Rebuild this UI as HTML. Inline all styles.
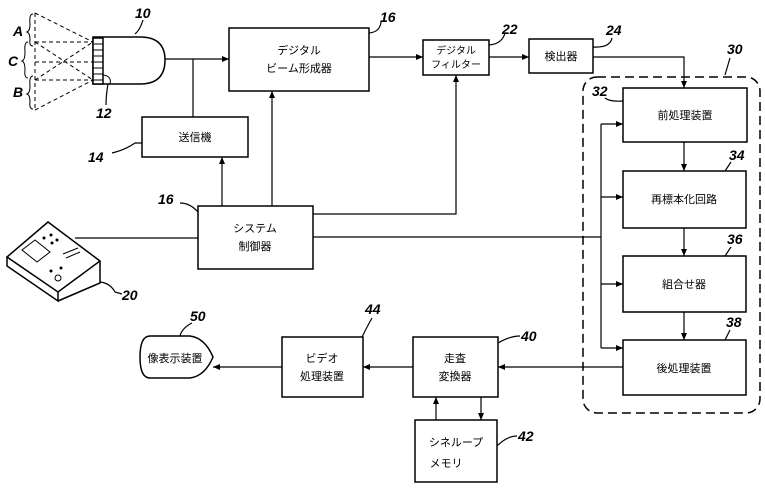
<!DOCTYPE html>
<html><head><meta charset="utf-8"><style>
html,body{margin:0;padding:0;background:#fff;}
svg{display:block;}
text{font-family:"Liberation Sans","Noto Sans CJK JP",sans-serif;fill:#000;}
.j{font-size:11px;}
.n{font-size:14px;font-style:italic;font-weight:bold;}
</style></head><body>
<svg width="765" height="497" viewBox="0 0 765 497" xmlns="http://www.w3.org/2000/svg">
<defs><marker id="a" markerWidth="8" markerHeight="8" refX="7" refY="3" orient="auto" markerUnits="userSpaceOnUse"><path d="M0,0 L7,3 L0,6 z" fill="#000"/></marker></defs>
<g stroke="#000" fill="none" stroke-width="1.5">
<path d="M93,37 H140 Q165,37 165,60 Q165,84 140,84 H93 Z" fill="#fff"/>
<rect x="93" y="38" width="10" height="46" fill="#fff"/>
<path d="M93,44h10M93,50h10M93,56h10M93,62h10M93,68h10M93,74h10M93,80h10" stroke-width="1"/>
<path d="M103,75 Q112,76 110,84" stroke-width="1"/>
<g stroke-width="1" stroke-dasharray="4,3">
<path d="M35,13 L93,42 M35,110 L93,80 M35,42 L93,42 M35,80 L93,80 M35,62 L93,62 M35,42 L93,80 M35,80 L93,42 M35,13 L35,110"/>
</g>
<path d="M33,14 Q29,14 30,24 Q30,31 27,32 Q30,33 30,40 Q29,46 33,46" stroke-width="1"/>
<path d="M28,42 Q24,42 25,52 Q25,60 22,61 Q25,62 25,70 Q24,78 28,78" stroke-width="1"/>
<path d="M33,76 Q29,76 30,86 Q30,93 27,94 Q30,95 30,102 Q29,109 33,109" stroke-width="1"/>
<rect x="229" y="28" width="140" height="63"/>
<rect x="142" y="117" width="106" height="40"/>
<rect x="198" y="206" width="115" height="63"/>
<rect x="423" y="40" width="66" height="35"/>
<rect x="529" y="39" width="64" height="34"/>
<rect x="583" y="77" width="177" height="336" rx="14" stroke-dasharray="9,5"/>
<rect x="623" y="88" width="124" height="54"/>
<rect x="623" y="171" width="123" height="57"/>
<rect x="623" y="256" width="123" height="56"/>
<rect x="623" y="340" width="123" height="55"/>
<rect x="413" y="337" width="85" height="60"/>
<rect x="282" y="337" width="81" height="60"/>
<rect x="415" y="420" width="82" height="62"/>
<path d="M213,357 Q205,338 190,336 H150 Q140,336 140,357 Q140,378 150,378 H190 Q205,376 213,357 Z"/>
<path d="M7,257 L48,222 L100,261 L58,292 Z" fill="#fff"/>
<path d="M7,257 L7,266 L58,301 L58,292 M58,301 L100,283 L100,261"/>
<path d="M22,250 L35,240 L50,252 L37,262 Z" stroke-width="1"/>
<path d="M63,254 L78,248 M66,258 L80,252" stroke-width="1"/>
</g>
<g fill="#000"><circle cx="44" cy="238" r="1.5"/><circle cx="51" cy="235" r="1.5"/><circle cx="52" cy="243" r="1.5"/><circle cx="57" cy="240" r="1.5"/><circle cx="51" cy="271" r="1.5"/><circle cx="61" cy="268" r="1.5"/></g>
<circle cx="58" cy="278" r="3" fill="none" stroke="#000"/>
<g stroke="#000" fill="none" stroke-width="1.2">
<path d="M165,59 H229" marker-end="url(#a)"/>
<path d="M193,117 V59"/>
<path d="M222,206 V157" marker-end="url(#a)"/>
<path d="M272,206 V91" marker-end="url(#a)"/>
<path d="M313,214 H456 V75" marker-end="url(#a)"/>
<path d="M369,57 H423" marker-end="url(#a)"/>
<path d="M489,57 H529" marker-end="url(#a)"/>
<path d="M593,57 H684 V88" marker-end="url(#a)"/>
<path d="M75,238 H198"/>
<path d="M313,237 H601"/>
<path d="M601,124 V348"/>
<path d="M601,124 H623" marker-end="url(#a)"/>
<path d="M601,197 H623" marker-end="url(#a)"/>
<path d="M601,284 H623" marker-end="url(#a)"/>
<path d="M601,348 H623" marker-end="url(#a)"/>
<path d="M684,142 V171" marker-end="url(#a)"/>
<path d="M684,228 V256" marker-end="url(#a)"/>
<path d="M684,312 V340" marker-end="url(#a)"/>
<path d="M623,367 H498" marker-end="url(#a)"/>
<path d="M413,367 H363" marker-end="url(#a)"/>
<path d="M282,367 H213" marker-end="url(#a)"/>
<path d="M436,420 V397" marker-end="url(#a)"/>
<path d="M481,397 V420" marker-end="url(#a)"/>
<path d="M135,34 Q140,30 143,20"/>
<path d="M108,84 Q106,95 106,105"/>
<path d="M112,153 Q125,150 135,143 L142,143"/>
<path d="M180,203 Q190,203 198,212"/>
<path d="M369,33 Q380,32 381,22"/>
<path d="M489,45 Q502,44 505,33"/>
<path d="M593,47 Q610,48 612,38"/>
<path d="M725,75 L730,58"/>
<path d="M605,98 Q610,102 623,101"/>
<path d="M725,171 L731,162"/>
<path d="M725,256 L731,247"/>
<path d="M725,340 L730,330"/>
<path d="M498,343 Q510,336 520,336"/>
<path d="M497,446 Q507,436 517,436"/>
<path d="M362,337 Q368,325 372,318"/>
<path d="M180,336 Q182,328 192,323"/>
<path d="M100,282 Q110,283 115,292 L122,294"/>
</g>
<g class="j" text-anchor="middle">
<text x="299" y="54">デジタル</text><text x="299" y="72">ビーム形成器</text>
<text x="195" y="141">送信機</text>
<text x="255" y="232">システム</text><text x="255" y="250">制御器</text>
<text x="456" y="54" font-size="10">デジタル</text><text x="456" y="68" font-size="10">フィルター</text>
<text x="561" y="60">検出器</text>
<text x="685" y="119">前処理装置</text>
<text x="684" y="203">再標本化回路</text>
<text x="684" y="288">組合せ器</text>
<text x="684" y="372">後処理装置</text>
<text x="455" y="362">走査</text><text x="455" y="380">変換器</text>
<text x="322" y="362">ビデオ</text><text x="322" y="380">処理装置</text>
<text x="456" y="446">シネループ</text><text x="446" y="467">メモリ</text>
<text x="175" y="362">像表示装置</text>
</g>
<g class="n">
<text x="135" y="18">10</text><text x="96" y="118">12</text><text x="88" y="162">14</text>
<text x="380" y="22">16</text><text x="158" y="204">16</text>
<text x="13" y="36">A</text><text x="8" y="66">C</text><text x="13" y="97">B</text>
<text x="502" y="34">22</text><text x="606" y="35">24</text><text x="727" y="54">30</text>
<text x="592" y="96">32</text><text x="729" y="160">34</text><text x="727" y="244">36</text>
<text x="726" y="327">38</text><text x="521" y="341">40</text><text x="518" y="441">42</text>
<text x="365" y="314">44</text><text x="190" y="321">50</text><text x="122" y="300">20</text>
</g>
</svg>
</body></html>
